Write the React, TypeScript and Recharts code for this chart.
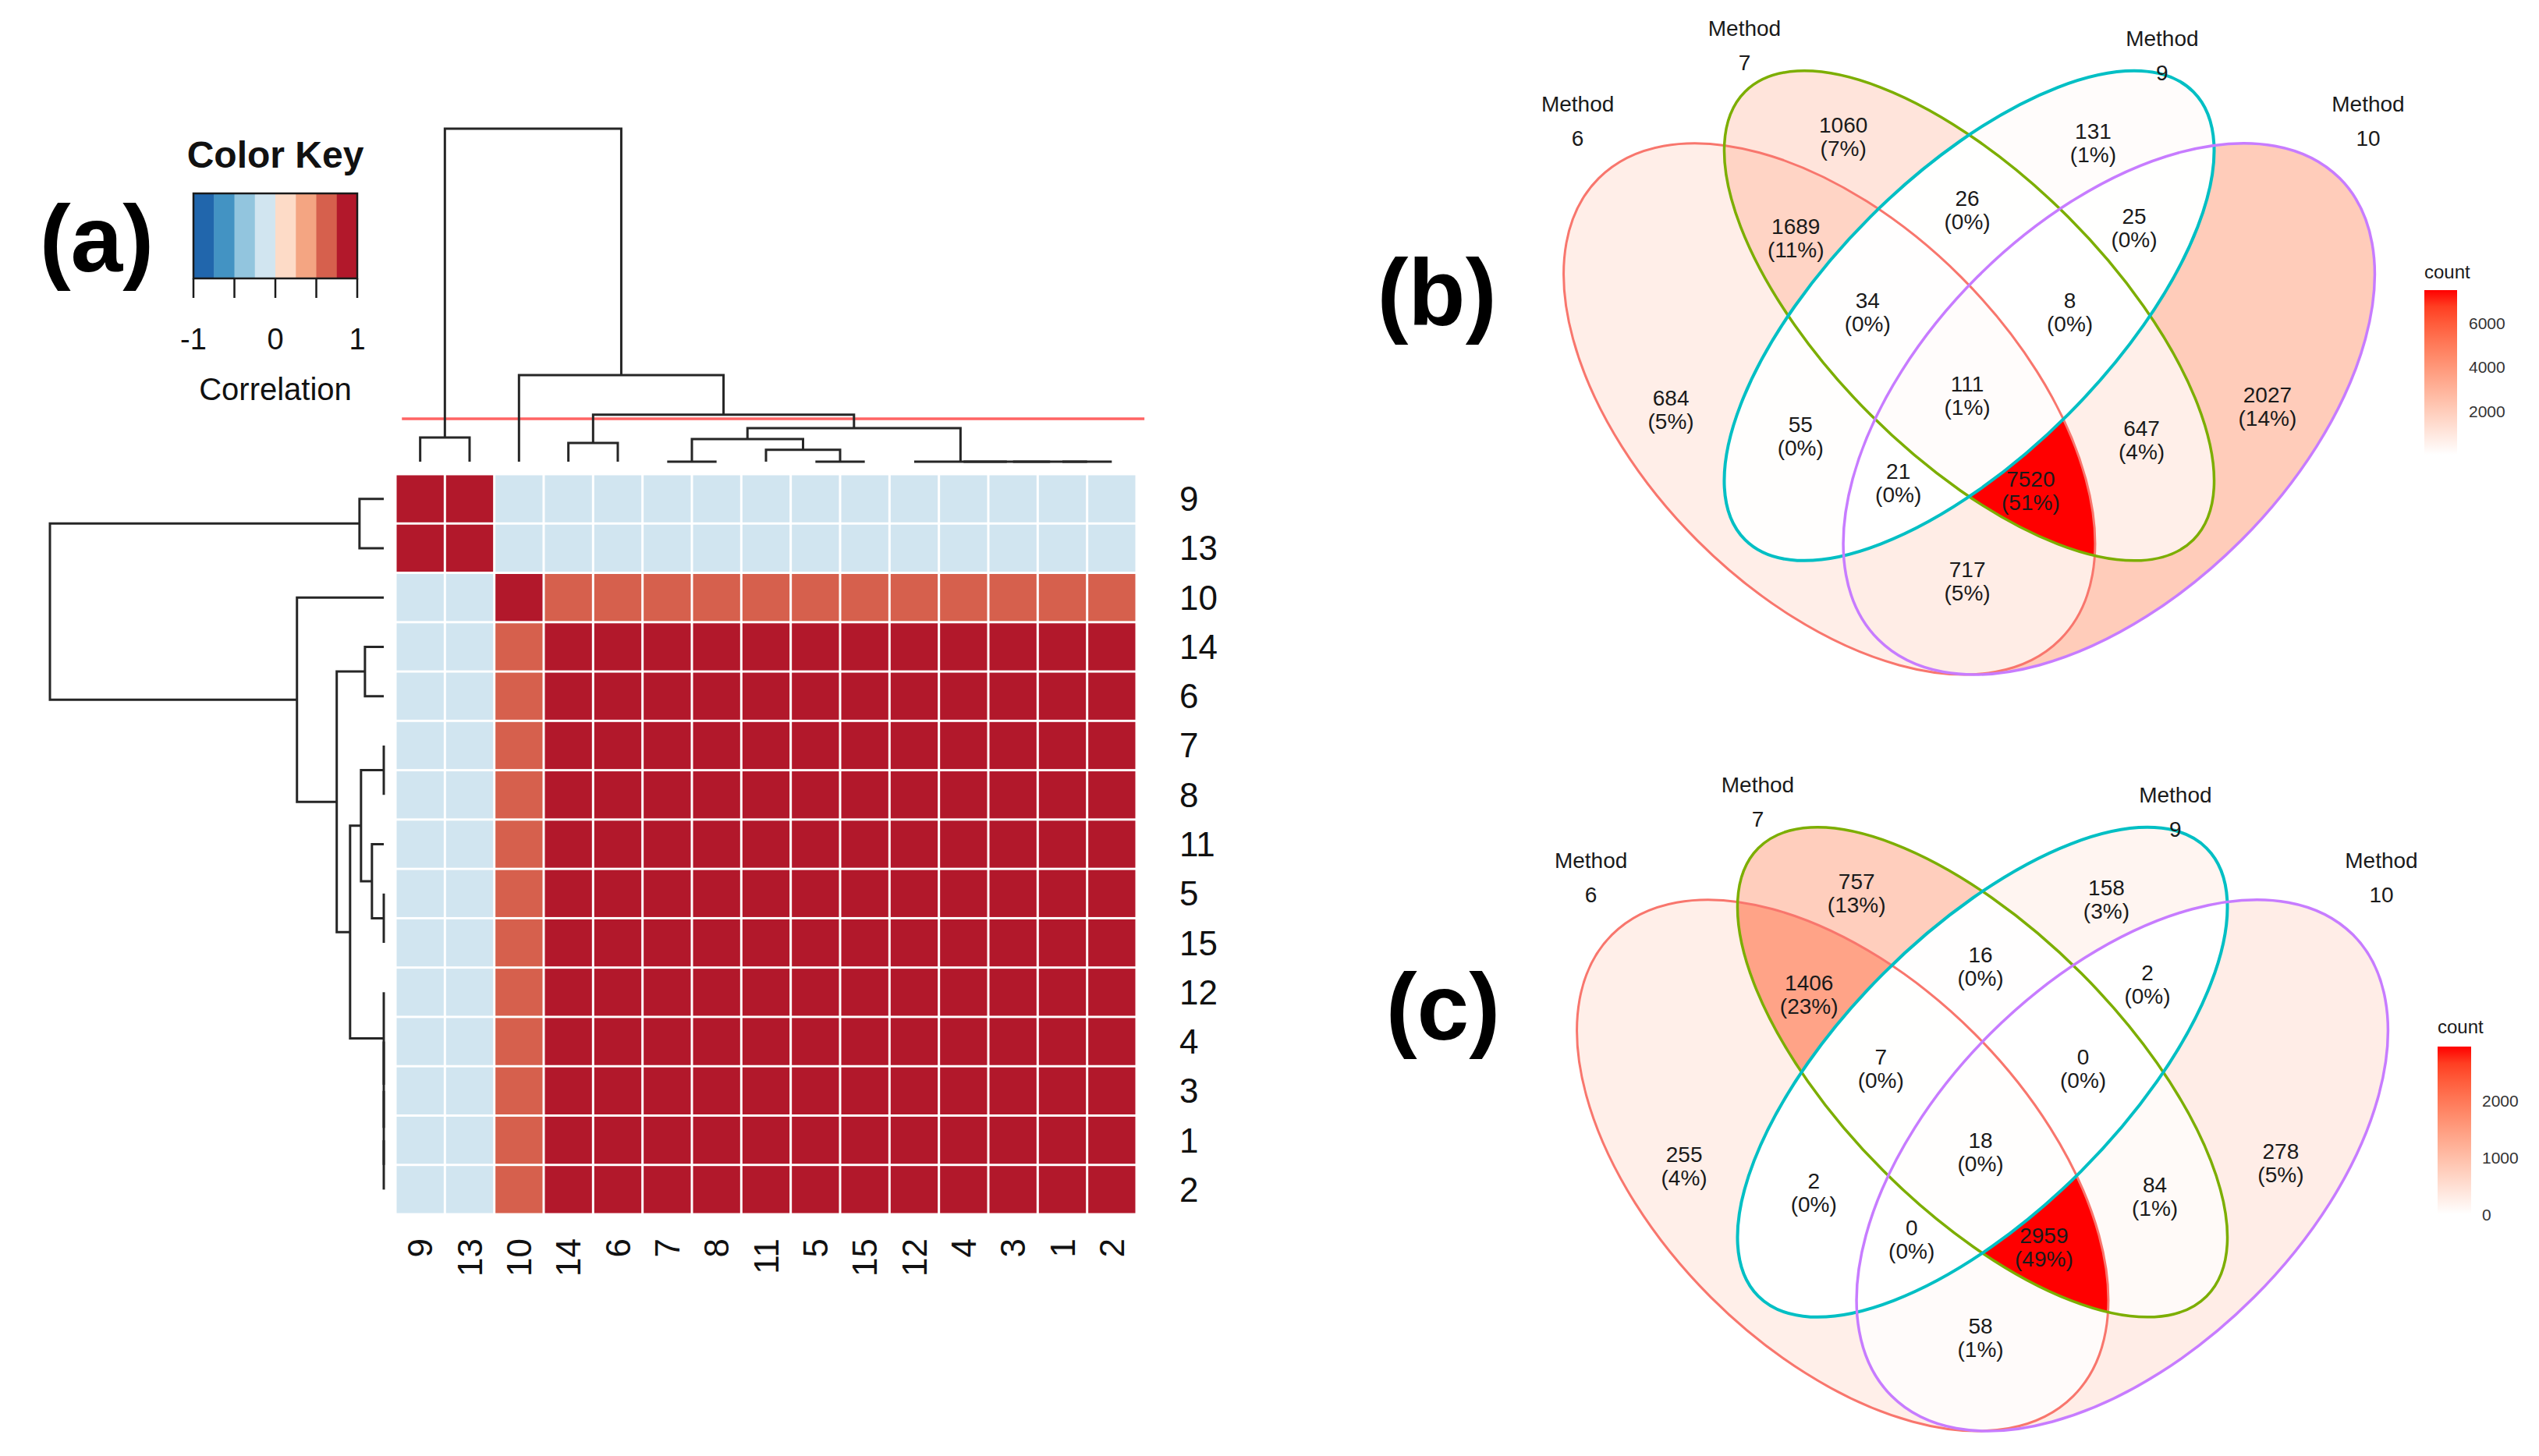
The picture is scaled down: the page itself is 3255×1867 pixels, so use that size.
import React from "react";
import {
  ScatterChart,
  Scatter,
  ComposedChart,
  Bar,
  XAxis,
  YAxis,
  ReferenceLine,
} from "recharts";

const FONT = "'Liberation Sans', Arial, Helvetica, sans-serif";
const PAGE_W = 3255;
const PAGE_H = 1867;

// ---------------- (a) correlation heatmap ----------------
// order of methods as drawn (rows top→bottom, columns left→right)
const METHOD_ORDER = ["9", "13", "10", "14", "6", "7", "8", "11", "5", "15", "12", "4", "3", "1", "2"];

const CORR = [
  [1.0, 0.97, -0.1, -0.12, -0.12, -0.11, -0.11, -0.12, -0.11, -0.11, -0.12, -0.12, -0.12, -0.12, -0.12],
  [0.97, 1.0, -0.1, -0.11, -0.11, -0.1, -0.1, -0.11, -0.1, -0.1, -0.11, -0.11, -0.11, -0.11, -0.11],
  [-0.1, -0.1, 1.0, 0.66, 0.67, 0.68, 0.68, 0.67, 0.68, 0.68, 0.67, 0.67, 0.67, 0.67, 0.67],
  [-0.12, -0.11, 0.66, 1.0, 0.96, 0.92, 0.92, 0.92, 0.92, 0.92, 0.92, 0.92, 0.92, 0.92, 0.92],
  [-0.12, -0.11, 0.67, 0.96, 1.0, 0.92, 0.92, 0.92, 0.92, 0.92, 0.92, 0.92, 0.92, 0.92, 0.92],
  [-0.11, -0.1, 0.68, 0.92, 0.92, 1.0, 0.99, 0.95, 0.95, 0.95, 0.94, 0.94, 0.94, 0.94, 0.94],
  [-0.11, -0.1, 0.68, 0.92, 0.92, 0.99, 1.0, 0.95, 0.95, 0.95, 0.94, 0.94, 0.94, 0.94, 0.94],
  [-0.12, -0.11, 0.67, 0.92, 0.92, 0.95, 0.95, 1.0, 0.98, 0.98, 0.94, 0.94, 0.94, 0.94, 0.94],
  [-0.11, -0.1, 0.68, 0.92, 0.92, 0.95, 0.95, 0.98, 1.0, 0.99, 0.94, 0.94, 0.94, 0.94, 0.94],
  [-0.11, -0.1, 0.68, 0.92, 0.92, 0.95, 0.95, 0.98, 0.99, 1.0, 0.94, 0.94, 0.94, 0.94, 0.94],
  [-0.12, -0.11, 0.67, 0.92, 0.92, 0.94, 0.94, 0.94, 0.94, 0.94, 1.0, 0.99, 0.99, 0.99, 0.99],
  [-0.12, -0.11, 0.67, 0.92, 0.92, 0.94, 0.94, 0.94, 0.94, 0.94, 0.99, 1.0, 0.99, 0.99, 0.99],
  [-0.12, -0.11, 0.67, 0.92, 0.92, 0.94, 0.94, 0.94, 0.94, 0.94, 0.99, 0.99, 1.0, 0.99, 0.99],
  [-0.12, -0.11, 0.67, 0.92, 0.92, 0.94, 0.94, 0.94, 0.94, 0.94, 0.99, 0.99, 0.99, 1.0, 0.99],
  [-0.12, -0.11, 0.67, 0.92, 0.92, 0.94, 0.94, 0.94, 0.94, 0.94, 0.99, 0.99, 0.99, 0.99, 1.0],
];

// hclust-like merges: leaf label or "#n" (n-th merge, 1-based)
const MERGE_A = ["7", "5", "1", "3", "4", "12", "11", "#1", "14", "#8", "#9", "9", "10", "#12"];
const MERGE_B = ["8", "15", "2", "#3", "#4", "#5", "#2", "#7", "6", "#6", "#10", "13", "#11", "#13"];
const MERGE_H = [0, 0, 0, 0, 0, 0, 0.039, 0.075, 0.062, 0.111, 0.155, 0.08, 0.286, 1.1];
const DENDRO_MAX = 1.1;
const CUT_HEIGHT = 0.142;

const KEY_BREAKS = [-1, -0.75, -0.5, -0.25, 0, 0.25, 0.5, 0.75, 1];
const KEY_COLORS = ["#2166AC", "#4393C3", "#92C5DE", "#D1E5F0", "#FDDBC7", "#F4A582", "#D6604D", "#B2182B"];
const KEY_TICKS = [-1, -0.5, 0, 0.5, 1];

// ---------------- (b), (c) Venn diagrams ----------------
const SET_NAMES = ["Method 6", "Method 7", "Method 9", "Method 10"];
const REGIONS = ["A", "B", "C", "D", "AB", "AC", "AD", "BC", "BD", "CD", "ABC", "ABD", "ACD", "BCD", "ABCD"];
const COUNTS_B = [684, 1060, 131, 2027, 1689, 55, 717, 26, 647, 25, 34, 7520, 21, 8, 111];
const COUNTS_C = [255, 757, 158, 278, 1406, 2, 58, 16, 84, 2, 7, 2959, 0, 0, 18];
const LEGEND_TICKS_B = [2000, 4000, 6000];
const LEGEND_TICKS_C = [0, 1000, 2000];

// layout of the 4-set ellipse diagram (unit square)
const ELLIPSE_X = [0.35, 0.5, 0.5, 0.65];
const ELLIPSE_Y = [0.47, 0.57, 0.57, 0.47];
const ELLIPSE_A = [0.35, 0.34, 0.34, 0.35];
const ELLIPSE_B = [0.2, 0.15, 0.15, 0.2];
const ELLIPSE_ROT = [135, 135, 45, 45];
const SET_COLORS = ["#F8766D", "#7CAE00", "#00BFC4", "#C77CFF"];
const SET_WIDTHS = [3, 3.5, 4, 3.5];
const SET_LABEL_U = [0.08, 0.259, 0.707, 0.928];
const SET_LABEL_V = [0.779, 0.86, 0.849, 0.779];
const REGION_U = [0.18, 0.365, 0.633, 0.82, 0.314, 0.319, 0.498, 0.498, 0.685, 0.677, 0.391, 0.566, 0.424, 0.608, 0.498];
const REGION_V = [0.469, 0.762, 0.755, 0.472, 0.653, 0.441, 0.285, 0.683, 0.436, 0.664, 0.574, 0.382, 0.39, 0.574, 0.484];
const VENN_UNIT = 1195;

// ---------------- colour helpers (ggplot Lab gradient white -> red) ----------------
const toLinear = (c: number) => {
  const v = c / 255;
  return v <= 0.04045 ? v / 12.92 : Math.pow((v + 0.055) / 1.055, 2.4);
};
const fromLinear = (c: number) => {
  const v = c <= 0.0031308 ? 12.92 * c : 1.055 * Math.pow(Math.max(c, 0), 1 / 2.4) - 0.055;
  return Math.round(Math.max(0, Math.min(1, v)) * 255);
};
const XN = 0.95047, ZN = 1.08883;
function rgbToLab(rgb: number[]) {
  const [R, G, B] = rgb.map(toLinear);
  const X = (0.4124 * R + 0.3576 * G + 0.1805 * B) / XN;
  const Y = 0.2126 * R + 0.7152 * G + 0.0722 * B;
  const Z = (0.0193 * R + 0.1192 * G + 0.9505 * B) / ZN;
  const f = (t: number) => (t > 0.008856 ? Math.cbrt(t) : 7.787 * t + 16 / 116);
  return [116 * f(Y) - 16, 500 * (f(X) - f(Y)), 200 * (f(Y) - f(Z))];
}
function labToHex(lab: number[]) {
  const [L, a, b] = lab;
  const fy = (L + 16) / 116, fx = fy + a / 500, fz = fy - b / 200;
  const inv = (f: number) => (f * f * f > 0.008856 ? f * f * f : (f - 16 / 116) / 7.787);
  const X = inv(fx) * XN, Y = inv(fy), Z = inv(fz) * ZN;
  const R = 3.2406 * X - 1.5372 * Y - 0.4986 * Z;
  const G = -0.9689 * X + 1.8758 * Y + 0.0415 * Z;
  const B = 0.0557 * X - 0.204 * Y + 1.057 * Z;
  return "#" + [R, G, B].map((c) => fromLinear(c).toString(16).padStart(2, "0")).join("");
}
const LAB_LO = rgbToLab([255, 255, 255]);
const LAB_HI = rgbToLab([255, 0, 0]);
const countColor = (t: number) => labToHex([0, 1, 2].map((i) => LAB_LO[i] + (LAB_HI[i] - LAB_LO[i]) * t));

const corrColor = (v: number) => {
  const idx = Math.min(KEY_COLORS.length - 1, Math.max(0, Math.floor((v + 1) / 0.25)));
  return KEY_COLORS[idx];
};

const emptyShape = () => <g />;

// ---------------- dendrogram geometry ----------------
function buildDendro() {
  const pos: number[] = [];
  const refPos = (r: string) => (r.startsWith("#") ? pos[+r.slice(1) - 1] : METHOD_ORDER.indexOf(r) + 0.5);
  const refH = (r: string) => (r.startsWith("#") ? MERGE_H[+r.slice(1) - 1] : 0);
  return MERGE_H.map((h, i) => {
    const pa = refPos(MERGE_A[i]);
    const pb = refPos(MERGE_B[i]);
    pos[i] = (pa + pb) / 2;
    return [
      { p: pa, h: refH(MERGE_A[i]) },
      { p: pa, h },
      { p: pb, h },
      { p: pb, h: refH(MERGE_B[i]) },
    ];
  });
}
const DENDRO = buildDendro();
const DENDRO_LINE = { stroke: "#262626", strokeWidth: 3 };

function Box({ left, top, children }: any) {
  return <div style={{ position: "absolute", left, top }}>{children}</div>;
}

const N = METHOD_ORDER.length;
const HM_SIZE = 950;
const CELL = HM_SIZE / N;
const POS_TICKS = METHOD_ORDER.map((_, i) => i + 0.5);

function Heatmap() {
  const data = CORR.flatMap((row, r) => row.map((v, c) => ({ x: c + 0.5, y: r + 0.5, v })));
  const gap = 3;
  return (
    <ScatterChart width={1250} height={1150} margin={{ top: 48, left: 107, right: 0, bottom: 0 }}>
      <XAxis
        type="number"
        dataKey="x"
        domain={[0, N]}
        ticks={POS_TICKS}
        interval={0}
        axisLine={false}
        tickLine={false}
        tickSize={0}
        tickMargin={31}
        height={153}
        tick={(p: any) => (
          <text
            x={p.x}
            y={p.y}
            transform={`rotate(-90 ${p.x} ${p.y})`}
            textAnchor="end"
            dominantBaseline="central"
            fontSize={44}
            fontFamily={FONT}
            fill="#111"
          >
            {METHOD_ORDER[Math.floor(p.payload.value)]}
          </text>
        )}
      />
      <YAxis
        type="number"
        dataKey="y"
        domain={[0, N]}
        reversed
        orientation="right"
        ticks={POS_TICKS}
        interval={0}
        axisLine={false}
        tickLine={false}
        tickSize={0}
        tickMargin={55}
        width={193}
        tick={(p: any) => (
          <text x={p.x} y={p.y} textAnchor="start" dominantBaseline="central" fontSize={44} fontFamily={FONT} fill="#111">
            {METHOD_ORDER[Math.floor(p.payload.value)]}
          </text>
        )}
      />
      <Scatter
        data={data}
        isAnimationActive={false}
        shape={(p: any) => (
          <rect
            x={p.cx - CELL / 2 + gap / 2}
            y={p.cy - CELL / 2 + gap / 2}
            width={CELL - gap}
            height={CELL - gap}
            fill={corrColor(p.payload.v)}
          />
        )}
      />
    </ScatterChart>
  );
}

function TopDendro() {
  return (
    <ScatterChart width={1100} height={470} margin={{ top: 25, left: 107, right: 43, bottom: 18 }}>
      <XAxis type="number" dataKey="x" domain={[0, N]} hide />
      <YAxis type="number" dataKey="y" domain={[0, DENDRO_MAX]} hide />
      {DENDRO.map((seg, i) => (
        <Scatter
          key={i}
          data={seg.map((s) => ({ x: s.p, y: s.h }))}
          line={DENDRO_LINE}
          shape={emptyShape}
          isAnimationActive={false}
        />
      ))}
      <ReferenceLine
        segment={[
          { x: 0.13, y: CUT_HEIGHT },
          { x: 15.16, y: CUT_HEIGHT },
        ]}
        stroke="#FF6464"
        strokeWidth={3.5}
        ifOverflow="visible"
      />
    </ScatterChart>
  );
}

function LeftDendro() {
  return (
    <ScatterChart width={480} height={1000} margin={{ top: 28, left: 34, right: 18, bottom: 23 }}>
      <XAxis type="number" dataKey="x" domain={[0, DENDRO_MAX]} reversed hide />
      <YAxis type="number" dataKey="y" domain={[0, N]} reversed hide />
      {DENDRO.map((seg, i) => (
        <Scatter
          key={i}
          data={seg.map((s) => ({ x: s.h, y: s.p }))}
          line={DENDRO_LINE}
          shape={emptyShape}
          isAnimationActive={false}
        />
      ))}
    </ScatterChart>
  );
}

const KEY_W = 210;
const KEY_H = 109;

function ColorKey() {
  const bins = KEY_COLORS.map((c, i) => ({ x: (KEY_BREAKS[i] + KEY_BREAKS[i + 1]) / 2, y: 0.5, c }));
  const binW = KEY_W / KEY_COLORS.length;
  return (
    <ScatterChart width={420} height={340} margin={{ top: 98, left: 98, right: 112, bottom: 0 }}>
      <XAxis
        type="number"
        dataKey="x"
        domain={[-1, 1]}
        ticks={KEY_TICKS}
        interval={0}
        axisLine={false}
        tickSize={25}
        tickLine={{ stroke: "#1a1a1a", strokeWidth: 2.5 }}
        tickMargin={39}
        height={133}
        tick={(p: any) => {
          const v = p.payload.value;
          const label = Math.abs(v) === 0.5 ? "" : String(v);
          return (
            <text x={p.x} y={p.y} dy="0.71em" textAnchor="middle" fontSize={38} fontFamily={FONT} fill="#111">
              {label}
            </text>
          );
        }}
      />
      <YAxis type="number" dataKey="y" domain={[0, 1]} hide />
      <Scatter
        data={bins}
        isAnimationActive={false}
        shape={(p: any) => (
          <rect x={p.cx - binW / 2} y={p.cy - KEY_H / 2} width={binW + 0.5} height={KEY_H} fill={p.payload.c} />
        )}
      />
      <Scatter
        data={[{ x: 0, y: 0.5 }]}
        isAnimationActive={false}
        shape={(p: any) => (
          <rect
            x={p.cx - KEY_W / 2}
            y={p.cy - KEY_H / 2}
            width={KEY_W}
            height={KEY_H}
            fill="none"
            stroke="#1a1a1a"
            strokeWidth={2.5}
          />
        )}
      />
    </ScatterChart>
  );
}

function VennPanel({ counts, origin, box, prefix }: any) {
  const U0 = (box.left - origin.x) / VENN_UNIT;
  const U1 = (box.left + box.width - origin.x) / VENN_UNIT;
  const V0 = (origin.y - (box.top + box.height)) / VENN_UNIT;
  const V1 = (origin.y - box.top) / VENN_UNIT;
  const toPx = (u: number, v: number) => ({ x: (u - U0) * VENN_UNIT, y: (V1 - v) * VENN_UNIT });
  const lo = Math.min(...counts);
  const hi = Math.max(...counts);
  const total = counts.reduce((a: number, b: number) => a + b, 0);

  const regionData = REGIONS.map((key, i) => ({
    x: REGION_U[i],
    y: REGION_V[i],
    key,
    count: counts[i],
    pct: Math.round((counts[i] / total) * 100),
    fill: countColor((counts[i] - lo) / (hi - lo)),
  }));
  const ellipseData = SET_NAMES.map((name, k) => ({ x: ELLIPSE_X[k], y: ELLIPSE_Y[k], k, name }));
  const setLabelData = SET_NAMES.map((name, k) => ({ x: SET_LABEL_U[k], y: SET_LABEL_V[k], name }));

  const ellipseEl = (k: number, extra: any = {}) => {
    const c = toPx(ELLIPSE_X[k], ELLIPSE_Y[k]);
    return (
      <ellipse
        key={k}
        cx={c.x}
        cy={c.y}
        rx={ELLIPSE_A[k] * VENN_UNIT}
        ry={ELLIPSE_B[k] * VENN_UNIT}
        transform={`rotate(${-ELLIPSE_ROT[k]} ${c.x} ${c.y})`}
        {...extra}
      />
    );
  };

  const fillShape = (p: any) => {
    const key: string = p.payload.key;
    const inside = key.split("").map((ch) => "ABCD".indexOf(ch));
    const outside = [0, 1, 2, 3].filter((k) => !inside.includes(k));
    const id = `${prefix}-${key}`;
    let body: any = (
      <rect x={0} y={0} width={box.width} height={box.height} fill={p.payload.fill} mask={`url(#${id}-m)`} />
    );
    inside.forEach((k) => {
      body = <g clipPath={`url(#${id}-c${k})`}>{body}</g>;
    });
    return (
      <g>
        <defs>
          {inside.map((k) => (
            <clipPath id={`${id}-c${k}`} key={k}>
              {ellipseEl(k)}
            </clipPath>
          ))}
          <mask id={`${id}-m`} maskUnits="userSpaceOnUse" x={0} y={0} width={box.width} height={box.height}>
            <rect x={0} y={0} width={box.width} height={box.height} fill="#fff" />
            {outside.map((k) => ellipseEl(k, { fill: "#000" }))}
          </mask>
        </defs>
        {body}
      </g>
    );
  };

  const outlineShape = (p: any) => {
    const k = p.payload.k;
    return (
      <ellipse
        cx={p.cx}
        cy={p.cy}
        rx={ELLIPSE_A[k] * VENN_UNIT}
        ry={ELLIPSE_B[k] * VENN_UNIT}
        transform={`rotate(${-ELLIPSE_ROT[k]} ${p.cx} ${p.cy})`}
        fill="none"
        stroke={SET_COLORS[k]}
        strokeWidth={SET_WIDTHS[k]}
      />
    );
  };

  const labelShape = (p: any) => (
    <g fontFamily={FONT} fontSize={28} fill="#1a1a1a" textAnchor="middle">
      <text x={p.cx} y={p.cy - 15} dominantBaseline="central">
        {p.payload.count}
      </text>
      <text x={p.cx} y={p.cy + 15} dominantBaseline="central">
        ({p.payload.pct}%)
      </text>
    </g>
  );

  const setLabelShape = (p: any) => {
    const [w1, w2] = p.payload.name.split(" ");
    return (
      <g fontFamily={FONT} fontSize={28} fill="#1a1a1a" textAnchor="middle">
        <text x={p.cx} y={p.cy - 22} dominantBaseline="central">
          {w1}
        </text>
        <text x={p.cx} y={p.cy + 22} dominantBaseline="central">
          {w2}
        </text>
      </g>
    );
  };

  return (
    <ScatterChart width={box.width} height={box.height} margin={{ top: 0, right: 0, bottom: 0, left: 0 }}>
      <XAxis type="number" dataKey="x" domain={[U0, U1]} hide />
      <YAxis type="number" dataKey="y" domain={[V0, V1]} hide />
      <Scatter data={regionData} shape={fillShape} isAnimationActive={false} />
      <Scatter data={ellipseData} shape={outlineShape} isAnimationActive={false} />
      <Scatter data={regionData} shape={labelShape} isAnimationActive={false} />
      <Scatter data={setLabelData} shape={setLabelShape} isAnimationActive={false} />
    </ScatterChart>
  );
}

function CountLegend({ counts, ticks, width, height, margin, axisWidth, tickMargin, prefix }: any) {
  const lo = Math.min(...counts);
  const hi = Math.max(...counts);
  const data = [{ name: "count", range: [lo, hi] }];
  const stops = Array.from({ length: 11 }, (_, i) => i / 10);
  return (
    <ComposedChart width={width} height={height} data={data} margin={margin} barCategoryGap={0}>
      <XAxis dataKey="name" type="category" hide />
      <YAxis
        type="number"
        domain={[lo, hi]}
        orientation="right"
        ticks={ticks}
        interval={0}
        axisLine={false}
        tickLine={false}
        tickSize={0}
        tickMargin={tickMargin}
        width={axisWidth}
        tick={(p: any) => (
          <text x={p.x} y={p.y} textAnchor="start" dominantBaseline="central" fontSize={21} fontFamily={FONT} fill="#333">
            {p.payload.value}
          </text>
        )}
      />
      <Bar
        dataKey="range"
        isAnimationActive={false}
        shape={(p: any) => (
          <g>
            <defs>
              <linearGradient id={`${prefix}-grad`} x1="0" y1="1" x2="0" y2="0">
                {stops.map((t) => (
                  <stop key={t} offset={t} stopColor={countColor(t)} />
                ))}
              </linearGradient>
            </defs>
            <rect x={p.x} y={p.y} width={p.width} height={p.height} fill={`url(#${prefix}-grad)`} />
          </g>
        )}
      />
    </ComposedChart>
  );
}

export default function App() {
  return (
    <div
      style={{
        position: "absolute",
        left: 0,
        top: 0,
        width: PAGE_W,
        height: PAGE_H,
        background: "#fff",
        overflow: "hidden",
        fontFamily: FONT,
      }}
    >
      <Box left={400} top={560}>
        <Heatmap />
      </Box>
      <Box left={400} top={140}>
        <TopDendro />
      </Box>
      <Box left={30} top={580}>
        <LeftDendro />
      </Box>
      <Box left={150} top={150}>
        <ColorKey />
      </Box>
      <Box left={1900} top={0}>
        <VennPanel
          counts={COUNTS_B}
          origin={{ x: 1927, y: 1086 }}
          box={{ left: 1900, top: 0, width: 1200, height: 930 }}
          prefix="vb"
        />
      </Box>
      <Box left={1900} top={960}>
        <VennPanel
          counts={COUNTS_C}
          origin={{ x: 1944, y: 2056 }}
          box={{ left: 1900, top: 960, width: 1200, height: 907 }}
          prefix="vc"
        />
      </Box>
      <Box left={3060} top={330}>
        <CountLegend
          counts={COUNTS_B}
          ticks={LEGEND_TICKS_B}
          width={190}
          height={280}
          margin={{ top: 42, left: 48, right: 0, bottom: 27 }}
          axisWidth={100}
          tickMargin={15}
          prefix="lb"
        />
      </Box>
      <Box left={3077} top={1300}>
        <CountLegend
          counts={COUNTS_C}
          ticks={LEGEND_TICKS_C}
          width={178}
          height={280}
          margin={{ top: 42, left: 48, right: 0, bottom: 23 }}
          axisWidth={87}
          tickMargin={14}
          prefix="lc"
        />
      </Box>
      <svg
        width={PAGE_W}
        height={PAGE_H}
        style={{ position: "absolute", left: 0, top: 0, pointerEvents: "none" }}
        fontFamily={FONT}
      >
        <text x={124} y={348} textAnchor="middle" fontSize={120} fontWeight="bold" fill="#000">
          (a)
        </text>
        <text x={1842} y={417} textAnchor="middle" fontSize={120} fontWeight="bold" fill="#000">
          (b)
        </text>
        <text x={1850} y={1333} textAnchor="middle" fontSize={120} fontWeight="bold" fill="#000">
          (c)
        </text>
        <text x={353} y={215} textAnchor="middle" fontSize={48} fontWeight="bold" fill="#111">
          Color Key
        </text>
        <text x={353} y={513} textAnchor="middle" fontSize={40} fill="#111">
          Correlation
        </text>
        <text x={3108} y={357} fontSize={24} fill="#1a1a1a">
          count
        </text>
        <text x={3125} y={1325} fontSize={24} fill="#1a1a1a">
          count
        </text>
      </svg>
    </div>
  );
}
